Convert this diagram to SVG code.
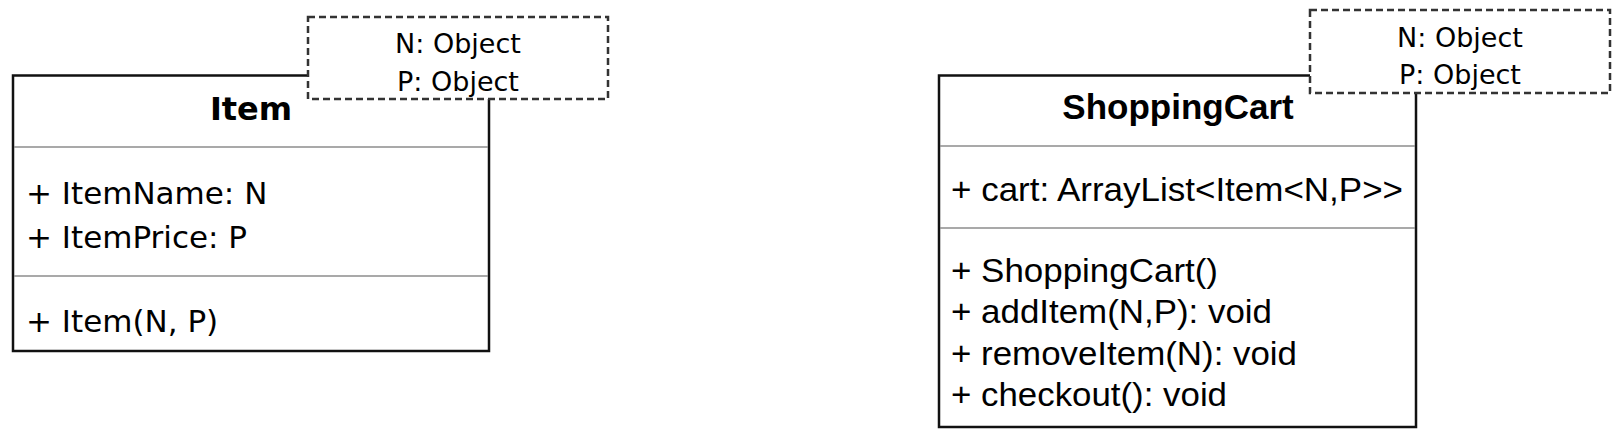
<svg xmlns="http://www.w3.org/2000/svg" width="1624" height="446" viewBox="0 0 1624 446">
<style>
.box{fill:#fff;stroke:#111;stroke-width:2.5}
.div{stroke:#8c8c8c;stroke-width:1.5}
.tpl{fill:#fff;stroke:#333;stroke-width:2.5;stroke-dasharray:7 4}
.t1{font-family:"DejaVu Sans",sans-serif;font-size:31px;fill:#000}
.t1b{font-family:"DejaVu Sans",sans-serif;font-size:32px;font-weight:bold;fill:#000}
.tp{font-family:"DejaVu Sans",sans-serif;font-size:27px;fill:#000}
.t2{font-family:"Liberation Sans",Arial,sans-serif;font-size:33px;fill:#000}
.t2b{font-family:"Liberation Sans",Arial,sans-serif;font-size:35px;font-weight:bold;fill:#000}
</style>
<rect width="1624" height="446" fill="#fff"/>
<g id="connectors"/>
<g id="item">
<rect class="box" x="13" y="75.5" width="476" height="275.5"/>
<line class="div" x1="14" y1="147" x2="488" y2="147"/>
<line class="div" x1="14" y1="276" x2="488" y2="276"/>
<text class="t1b" x="251" y="120" text-anchor="middle">Item</text>
<text class="t1" x="26" y="204">+ ItemName: N</text>
<text class="t1" x="26" y="247.5">+ ItemPrice: P</text>
<text class="t1" x="26" y="332">+ Item(N, P)</text>
</g>
<g id="item-template">
<rect class="tpl" x="308" y="17" width="300" height="82"/>
<text class="tp" x="458" y="53" text-anchor="middle">N: Object</text>
<text class="tp" x="458" y="90.5" text-anchor="middle">P: Object</text>
</g>
<g id="shoppingcart">
<rect class="box" x="939" y="75.5" width="477" height="351.5"/>
<line class="div" x1="940" y1="146" x2="1415" y2="146"/>
<line class="div" x1="940" y1="228" x2="1415" y2="228"/>
<text class="t2b" x="1178" y="119" text-anchor="middle">ShoppingCart</text>
<text class="t2" x="951" y="201" textLength="452" lengthAdjust="spacingAndGlyphs">+ cart: ArrayList&lt;Item&lt;N,P&gt;&gt;</text>
<text class="t2" x="951" y="282" textLength="267" lengthAdjust="spacingAndGlyphs">+ ShoppingCart()</text>
<text class="t2" x="951" y="323" textLength="321" lengthAdjust="spacingAndGlyphs">+ addItem(N,P): void</text>
<text class="t2" x="951" y="365" textLength="346" lengthAdjust="spacingAndGlyphs">+ removeItem(N): void</text>
<text class="t2" x="951" y="406" textLength="276" lengthAdjust="spacingAndGlyphs">+ checkout(): void</text>
</g>
<g id="shoppingcart-template">
<rect class="tpl" x="1310" y="10" width="300" height="83"/>
<text class="tp" x="1460" y="47" text-anchor="middle">N: Object</text>
<text class="tp" x="1460" y="83.5" text-anchor="middle">P: Object</text>
</g>
</svg>
